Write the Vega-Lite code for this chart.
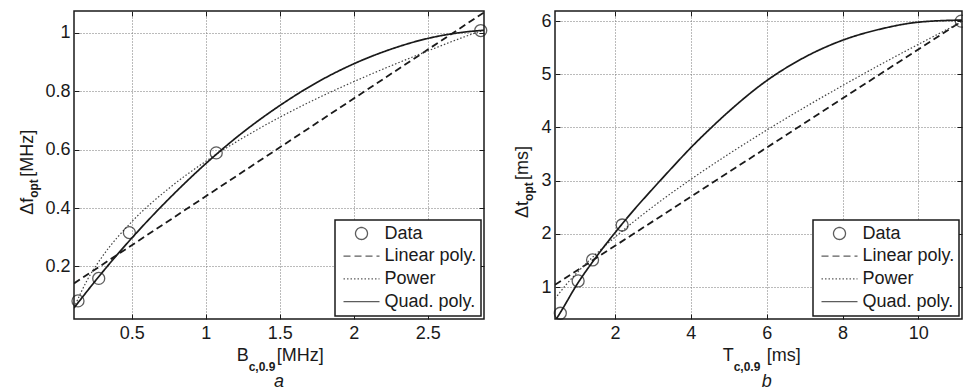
{
  "$schema": "https://vega.github.io/schema/vega-lite/v6.json",
  "background": "white",
  "padding": {"left": 18, "top": 9, "right": 0, "bottom": 0},
  "bounds": "flush",
  "spacing": 71,
  "resolve": {
    "scale": {"x": "independent", "y": "independent", "strokeDash": "independent", "shape": "independent"},
    "legend": {"strokeDash": "independent", "shape": "independent"}
  },
  "datasets": {
    "leftFits": [
      {"x": 0.11, "y": 0.142, "series": "Linear poly."},
      {"x": 2.88, "y": 1.070, "series": "Linear poly."},
      {"x": 0.11, "y": 0.059, "series": "Power"},
      {"x": 0.2, "y": 0.154, "series": "Power"},
      {"x": 0.3, "y": 0.233, "series": "Power"},
      {"x": 0.5, "y": 0.353, "series": "Power"},
      {"x": 0.75, "y": 0.467, "series": "Power"},
      {"x": 1.0, "y": 0.560, "series": "Power"},
      {"x": 1.25, "y": 0.640, "series": "Power"},
      {"x": 1.5, "y": 0.711, "series": "Power"},
      {"x": 1.75, "y": 0.775, "series": "Power"},
      {"x": 2.0, "y": 0.833, "series": "Power"},
      {"x": 2.25, "y": 0.887, "series": "Power"},
      {"x": 2.5, "y": 0.938, "series": "Power"},
      {"x": 2.75, "y": 0.987, "series": "Power"},
      {"x": 2.88, "y": 1.010, "series": "Power"},
      {"x": 0.11, "y": 0.058, "series": "Quad. poly."},
      {"x": 0.3, "y": 0.179, "series": "Quad. poly."},
      {"x": 0.5, "y": 0.297, "series": "Quad. poly."},
      {"x": 0.75, "y": 0.431, "series": "Quad. poly."},
      {"x": 1.0, "y": 0.552, "series": "Quad. poly."},
      {"x": 1.25, "y": 0.659, "series": "Quad. poly."},
      {"x": 1.5, "y": 0.751, "series": "Quad. poly."},
      {"x": 1.75, "y": 0.830, "series": "Quad. poly."},
      {"x": 2.0, "y": 0.894, "series": "Quad. poly."},
      {"x": 2.25, "y": 0.944, "series": "Quad. poly."},
      {"x": 2.5, "y": 0.981, "series": "Quad. poly."},
      {"x": 2.75, "y": 1.003, "series": "Quad. poly."},
      {"x": 2.88, "y": 1.009, "series": "Quad. poly."}
    ],
    "leftData": [
      {"x": 0.137, "y": 0.082, "series": "Data"},
      {"x": 0.277, "y": 0.159, "series": "Data"},
      {"x": 0.484, "y": 0.316, "series": "Data"},
      {"x": 1.071, "y": 0.589, "series": "Data"},
      {"x": 2.858, "y": 1.008, "series": "Data"}
    ],
    "rightFits": [
      {"x": 0.42, "y": 1.044, "series": "Linear poly."},
      {"x": 11.15, "y": 6.001, "series": "Linear poly."},
      {"x": 0.42, "y": 0.783, "series": "Power"},
      {"x": 0.7, "y": 1.034, "series": "Power"},
      {"x": 1.0, "y": 1.27, "series": "Power"},
      {"x": 1.5, "y": 1.621, "series": "Power"},
      {"x": 2.0, "y": 1.938, "series": "Power"},
      {"x": 3.0, "y": 2.509, "series": "Power"},
      {"x": 4.0, "y": 3.024, "series": "Power"},
      {"x": 5.0, "y": 3.501, "series": "Power"},
      {"x": 6.0, "y": 3.950, "series": "Power"},
      {"x": 7.0, "y": 4.378, "series": "Power"},
      {"x": 8.0, "y": 4.787, "series": "Power"},
      {"x": 9.0, "y": 5.183, "series": "Power"},
      {"x": 10.0, "y": 5.563, "series": "Power"},
      {"x": 11.15, "y": 5.988, "series": "Power"},
      {"x": 0.42, "y": 0.36, "series": "Quad. poly."},
      {"x": 0.56, "y": 0.52, "series": "Quad. poly."},
      {"x": 1.0, "y": 1.05, "series": "Quad. poly."},
      {"x": 1.5, "y": 1.56, "series": "Quad. poly."},
      {"x": 2.0, "y": 2.02, "series": "Quad. poly."},
      {"x": 2.5, "y": 2.45, "series": "Quad. poly."},
      {"x": 3.0, "y": 2.85, "series": "Quad. poly."},
      {"x": 3.5, "y": 3.24, "series": "Quad. poly."},
      {"x": 4.0, "y": 3.62, "series": "Quad. poly."},
      {"x": 4.5, "y": 3.97, "series": "Quad. poly."},
      {"x": 5.0, "y": 4.30, "series": "Quad. poly."},
      {"x": 6.0, "y": 4.88, "series": "Quad. poly."},
      {"x": 7.0, "y": 5.32, "series": "Quad. poly."},
      {"x": 8.0, "y": 5.64, "series": "Quad. poly."},
      {"x": 9.0, "y": 5.85, "series": "Quad. poly."},
      {"x": 10.0, "y": 5.98, "series": "Quad. poly."},
      {"x": 11.15, "y": 6.02, "series": "Quad. poly."}
    ],
    "rightData": [
      {"x": 0.56, "y": 0.508, "series": "Data"},
      {"x": 1.03, "y": 1.115, "series": "Data"},
      {"x": 1.41, "y": 1.51, "series": "Data"},
      {"x": 2.19, "y": 2.167, "series": "Data"},
      {"x": 11.13, "y": 6.0, "series": "Data"}
    ]
  },
  "hconcat": [
    {
      "width": 410,
      "height": 308,
      "resolve": {"axis": {"x": "independent", "y": "independent"}},
      "layer": [
        {
          "data": {"name": "leftFits"},
          "transform": [{"filter": "datum.series === 'Linear poly.'"}],
          "mark": {"type": "line", "clip": true, "color": "#1a1a1a", "strokeWidth": 1.8},
          "encoding": {
            "x": {"field": "x", "type": "quantitative", "scale": {"domain": [0.11, 2.88], "nice": false, "zero": false},
                  "axis": {"orient": "bottom", "values": [0.5, 1, 1.5, 2, 2.5], "format": "~r", "title": null, "grid": true, "labelPadding": 10}},
            "y": {"field": "y", "type": "quantitative", "scale": {"domain": [0.02, 1.075], "nice": false, "zero": false},
                  "axis": {"orient": "left", "values": [0.2, 0.4, 0.6, 0.8, 1], "format": "~r", "title": null, "grid": true, "labelPadding": 9}},
            "strokeDash": {"field": "series", "type": "nominal",
                  "scale": {"domain": ["Data", "Linear poly.", "Power", "Quad. poly."], "range": [[1, 0], [7, 4], [1.5, 2], [1, 0]]},
                  "legend": {"title": null}}
          }
        },
        {
          "data": {"name": "leftFits"},
          "transform": [{"filter": "datum.series === 'Power'"}],
          "mark": {"type": "line", "clip": true, "color": "#444444", "strokeWidth": 1.2, "interpolate": "monotone"},
          "encoding": {
            "x": {"field": "x", "type": "quantitative", "scale": {"domain": [0.11, 2.88], "nice": false, "zero": false}, "axis": null},
            "y": {"field": "y", "type": "quantitative", "scale": {"domain": [0.02, 1.075], "nice": false, "zero": false}, "axis": null},
            "strokeDash": {"field": "series", "type": "nominal",
                  "scale": {"domain": ["Data", "Linear poly.", "Power", "Quad. poly."], "range": [[1, 0], [7, 4], [1.5, 2], [1, 0]]},
                  "legend": {"title": null}}
          }
        },
        {
          "data": {"name": "leftFits"},
          "transform": [{"filter": "datum.series === 'Quad. poly.'"}],
          "mark": {"type": "line", "clip": true, "color": "#1a1a1a", "strokeWidth": 1.7, "interpolate": "monotone"},
          "encoding": {
            "x": {"field": "x", "type": "quantitative", "scale": {"domain": [0.11, 2.88], "nice": false, "zero": false}, "axis": null},
            "y": {"field": "y", "type": "quantitative", "scale": {"domain": [0.02, 1.075], "nice": false, "zero": false}, "axis": null},
            "strokeDash": {"field": "series", "type": "nominal",
                  "scale": {"domain": ["Data", "Linear poly.", "Power", "Quad. poly."], "range": [[1, 0], [7, 4], [1.5, 2], [1, 0]]},
                  "legend": {"title": null}}
          }
        },
        {
          "data": {"name": "leftData"},
          "mark": {"type": "point", "filled": false, "size": 144, "color": "#1a1a1a", "strokeWidth": 1.3},
          "encoding": {
            "x": {"field": "x", "type": "quantitative", "scale": {"domain": [0.11, 2.88], "nice": false, "zero": false},
                  "axis": {"orient": "top", "values": [0.5, 1, 1.5, 2, 2.5], "title": null, "grid": false, "labels": false}},
            "y": {"field": "y", "type": "quantitative", "scale": {"domain": [0.02, 1.075], "nice": false, "zero": false},
                  "axis": {"orient": "right", "values": [0.2, 0.4, 0.6, 0.8, 1], "title": null, "grid": false, "labels": false}},
            "shape": {"field": "series", "type": "nominal",
                  "scale": {"domain": ["Data", "Linear poly.", "Power", "Quad. poly."], "range": ["circle", "M-3,0H3", "M-3,0H3", "M-3,0H3"]},
                  "legend": {"title": null}}
          }
        },
        {
          "data": {"values": [{}]},
          "mark": {"type": "text", "text": "Δf", "angle": 270, "align": "right", "baseline": "alphabetic", "fontSize": 18, "dy": -41},
          "encoding": {
            "x": {"datum": 0.11, "type": "quantitative", "scale": {"domain": [0.11, 2.88], "nice": false, "zero": false}, "axis": null},
            "y": {"datum": 0.435, "type": "quantitative", "scale": {"domain": [0.02, 1.075], "nice": false, "zero": false}, "axis": null}
          }
        },
        {
          "data": {"values": [{}]},
          "mark": {"type": "text", "text": "opt", "angle": 270, "align": "left", "baseline": "alphabetic", "fontSize": 12, "fontWeight": "bold", "dy": -36},
          "encoding": {
            "x": {"datum": 0.11, "type": "quantitative", "scale": {"domain": [0.11, 2.88], "nice": false, "zero": false}, "axis": null},
            "y": {"datum": 0.435, "type": "quantitative", "scale": {"domain": [0.02, 1.075], "nice": false, "zero": false}, "axis": null}
          }
        },
        {
          "data": {"values": [{}]},
          "mark": {"type": "text", "text": "[MHz]", "angle": 270, "align": "left", "baseline": "alphabetic", "fontSize": 18, "dx": 21, "dy": -41},
          "encoding": {
            "x": {"datum": 0.11, "type": "quantitative", "scale": {"domain": [0.11, 2.88], "nice": false, "zero": false}, "axis": null},
            "y": {"datum": 0.435, "type": "quantitative", "scale": {"domain": [0.02, 1.075], "nice": false, "zero": false}, "axis": null}
          }
        },
        {
          "data": {"values": [{}]},
          "mark": {"type": "text", "text": "B", "align": "right", "baseline": "alphabetic", "fontSize": 18, "dy": 42},
          "encoding": {
            "x": {"datum": 1.29, "type": "quantitative", "scale": {"domain": [0.11, 2.88], "nice": false, "zero": false}, "axis": null},
            "y": {"datum": 0.02, "type": "quantitative", "scale": {"domain": [0.02, 1.075], "nice": false, "zero": false}, "axis": null}
          }
        },
        {
          "data": {"values": [{}]},
          "mark": {"type": "text", "text": "c,0.9", "align": "left", "baseline": "alphabetic", "fontSize": 12, "fontWeight": "bold", "dy": 52},
          "encoding": {
            "x": {"datum": 1.29, "type": "quantitative", "scale": {"domain": [0.11, 2.88], "nice": false, "zero": false}, "axis": null},
            "y": {"datum": 0.02, "type": "quantitative", "scale": {"domain": [0.02, 1.075], "nice": false, "zero": false}, "axis": null}
          }
        },
        {
          "data": {"values": [{}]},
          "mark": {"type": "text", "text": "[MHz]", "align": "left", "baseline": "alphabetic", "fontSize": 18, "dx": 28, "dy": 42},
          "encoding": {
            "x": {"datum": 1.29, "type": "quantitative", "scale": {"domain": [0.11, 2.88], "nice": false, "zero": false}, "axis": null},
            "y": {"datum": 0.02, "type": "quantitative", "scale": {"domain": [0.02, 1.075], "nice": false, "zero": false}, "axis": null}
          }
        },
        {
          "data": {"values": [{}]},
          "mark": {"type": "text", "text": "a", "align": "center", "baseline": "alphabetic", "fontSize": 18, "fontStyle": "italic", "dy": 68},
          "encoding": {
            "x": {"datum": 1.495, "type": "quantitative", "scale": {"domain": [0.11, 2.88], "nice": false, "zero": false}, "axis": null},
            "y": {"datum": 0.02, "type": "quantitative", "scale": {"domain": [0.02, 1.075], "nice": false, "zero": false}, "axis": null}
          }
        }
      ]
    },
    {
      "width": 407,
      "height": 308,
      "resolve": {"axis": {"x": "independent", "y": "independent"}},
      "layer": [
        {
          "data": {"name": "rightFits"},
          "transform": [{"filter": "datum.series === 'Linear poly.'"}],
          "mark": {"type": "line", "clip": true, "color": "#1a1a1a", "strokeWidth": 1.8},
          "encoding": {
            "x": {"field": "x", "type": "quantitative", "scale": {"domain": [0.42, 11.15], "nice": false, "zero": false},
                  "axis": {"orient": "bottom", "values": [2, 4, 6, 8, 10], "format": "~r", "title": null, "grid": true, "labelPadding": 10}},
            "y": {"field": "y", "type": "quantitative", "scale": {"domain": [0.4, 6.19], "nice": false, "zero": false},
                  "axis": {"orient": "left", "values": [1, 2, 3, 4, 5, 6], "format": "~r", "title": null, "grid": true, "labelPadding": 9}},
            "strokeDash": {"field": "series", "type": "nominal",
                  "scale": {"domain": ["Data", "Linear poly.", "Power", "Quad. poly."], "range": [[1, 0], [7, 4], [1.5, 2], [1, 0]]},
                  "legend": {"title": null}}
          }
        },
        {
          "data": {"name": "rightFits"},
          "transform": [{"filter": "datum.series === 'Power'"}],
          "mark": {"type": "line", "clip": true, "color": "#444444", "strokeWidth": 1.2, "interpolate": "monotone"},
          "encoding": {
            "x": {"field": "x", "type": "quantitative", "scale": {"domain": [0.42, 11.15], "nice": false, "zero": false}, "axis": null},
            "y": {"field": "y", "type": "quantitative", "scale": {"domain": [0.4, 6.19], "nice": false, "zero": false}, "axis": null},
            "strokeDash": {"field": "series", "type": "nominal",
                  "scale": {"domain": ["Data", "Linear poly.", "Power", "Quad. poly."], "range": [[1, 0], [7, 4], [1.5, 2], [1, 0]]},
                  "legend": {"title": null}}
          }
        },
        {
          "data": {"name": "rightFits"},
          "transform": [{"filter": "datum.series === 'Quad. poly.'"}],
          "mark": {"type": "line", "clip": true, "color": "#1a1a1a", "strokeWidth": 1.7, "interpolate": "monotone"},
          "encoding": {
            "x": {"field": "x", "type": "quantitative", "scale": {"domain": [0.42, 11.15], "nice": false, "zero": false}, "axis": null},
            "y": {"field": "y", "type": "quantitative", "scale": {"domain": [0.4, 6.19], "nice": false, "zero": false}, "axis": null},
            "strokeDash": {"field": "series", "type": "nominal",
                  "scale": {"domain": ["Data", "Linear poly.", "Power", "Quad. poly."], "range": [[1, 0], [7, 4], [1.5, 2], [1, 0]]},
                  "legend": {"title": null}}
          }
        },
        {
          "data": {"name": "rightData"},
          "mark": {"type": "point", "filled": false, "size": 144, "color": "#1a1a1a", "strokeWidth": 1.3},
          "encoding": {
            "x": {"field": "x", "type": "quantitative", "scale": {"domain": [0.42, 11.15], "nice": false, "zero": false},
                  "axis": {"orient": "top", "values": [2, 4, 6, 8, 10], "title": null, "grid": false, "labels": false}},
            "y": {"field": "y", "type": "quantitative", "scale": {"domain": [0.4, 6.19], "nice": false, "zero": false},
                  "axis": {"orient": "right", "values": [1, 2, 3, 4, 5, 6], "title": null, "grid": false, "labels": false}},
            "shape": {"field": "series", "type": "nominal",
                  "scale": {"domain": ["Data", "Linear poly.", "Power", "Quad. poly."], "range": ["circle", "M-3,0H3", "M-3,0H3", "M-3,0H3"]},
                  "legend": {"title": null}}
          }
        },
        {
          "data": {"values": [{}]},
          "mark": {"type": "text", "text": "Δt", "angle": 270, "align": "right", "baseline": "alphabetic", "fontSize": 18, "dy": -27},
          "encoding": {
            "x": {"datum": 0.42, "type": "quantitative", "scale": {"domain": [0.42, 11.15], "nice": false, "zero": false}, "axis": null},
            "y": {"datum": 2.62, "type": "quantitative", "scale": {"domain": [0.4, 6.19], "nice": false, "zero": false}, "axis": null}
          }
        },
        {
          "data": {"values": [{}]},
          "mark": {"type": "text", "text": "opt", "angle": 270, "align": "left", "baseline": "alphabetic", "fontSize": 12, "fontWeight": "bold", "dy": -22},
          "encoding": {
            "x": {"datum": 0.42, "type": "quantitative", "scale": {"domain": [0.42, 11.15], "nice": false, "zero": false}, "axis": null},
            "y": {"datum": 2.62, "type": "quantitative", "scale": {"domain": [0.4, 6.19], "nice": false, "zero": false}, "axis": null}
          }
        },
        {
          "data": {"values": [{}]},
          "mark": {"type": "text", "text": "[ms]", "angle": 270, "align": "left", "baseline": "alphabetic", "fontSize": 18, "dx": 21, "dy": -27},
          "encoding": {
            "x": {"datum": 0.42, "type": "quantitative", "scale": {"domain": [0.42, 11.15], "nice": false, "zero": false}, "axis": null},
            "y": {"datum": 2.62, "type": "quantitative", "scale": {"domain": [0.4, 6.19], "nice": false, "zero": false}, "axis": null}
          }
        },
        {
          "data": {"values": [{}]},
          "mark": {"type": "text", "text": "T", "align": "right", "baseline": "alphabetic", "fontSize": 18, "dy": 42},
          "encoding": {
            "x": {"datum": 5.13, "type": "quantitative", "scale": {"domain": [0.42, 11.15], "nice": false, "zero": false}, "axis": null},
            "y": {"datum": 0.4, "type": "quantitative", "scale": {"domain": [0.4, 6.19], "nice": false, "zero": false}, "axis": null}
          }
        },
        {
          "data": {"values": [{}]},
          "mark": {"type": "text", "text": "c,0.9", "align": "left", "baseline": "alphabetic", "fontSize": 12, "fontWeight": "bold", "dy": 52},
          "encoding": {
            "x": {"datum": 5.13, "type": "quantitative", "scale": {"domain": [0.42, 11.15], "nice": false, "zero": false}, "axis": null},
            "y": {"datum": 0.4, "type": "quantitative", "scale": {"domain": [0.4, 6.19], "nice": false, "zero": false}, "axis": null}
          }
        },
        {
          "data": {"values": [{}]},
          "mark": {"type": "text", "text": "[ms]", "align": "left", "baseline": "alphabetic", "fontSize": 18, "dx": 33, "dy": 42},
          "encoding": {
            "x": {"datum": 5.13, "type": "quantitative", "scale": {"domain": [0.42, 11.15], "nice": false, "zero": false}, "axis": null},
            "y": {"datum": 0.4, "type": "quantitative", "scale": {"domain": [0.4, 6.19], "nice": false, "zero": false}, "axis": null}
          }
        },
        {
          "data": {"values": [{}]},
          "mark": {"type": "text", "text": "b", "align": "center", "baseline": "alphabetic", "fontSize": 18, "fontStyle": "italic", "dy": 68},
          "encoding": {
            "x": {"datum": 6.0, "type": "quantitative", "scale": {"domain": [0.42, 11.15], "nice": false, "zero": false}, "axis": null},
            "y": {"datum": 0.4, "type": "quantitative", "scale": {"domain": [0.4, 6.19], "nice": false, "zero": false}, "axis": null}
          }
        }
      ]
    }
  ],
  "config": {
    "font": "Liberation Sans",
    "view": {"stroke": "#1a1a1a", "strokeWidth": 1.5},
    "text": {"font": "Liberation Sans", "color": "#1a1a1a"},
    "axis": {
      "labelFont": "Liberation Sans",
      "labelFontSize": 18,
      "labelColor": "#1a1a1a",
      "tickColor": "#1a1a1a",
      "tickSize": -5,
      "tickWidth": 1,
      "domain": false,
      "gridColor": "#777777",
      "gridDash": [1, 2],
      "gridWidth": 1,
      "gridOpacity": 1
    },
    "legend": {
      "orient": "bottom-right",
      "offset": 3,
      "strokeColor": "#1a1a1a",
      "strokeWidth": 1.5,
      "fillColor": "white",
      "padding": 4.5,
      "labelFont": "Liberation Sans",
      "labelFontSize": 18,
      "labelColor": "#1a1a1a",
      "symbolSize": 144,
      "symbolStrokeColor": "#1a1a1a",
      "symbolFillColor": "transparent",
      "symbolStrokeWidth": 1.3,
      "symbolOffset": 13,
      "labelOffset": 14,
      "rowPadding": 4.7
    }
  }
}
